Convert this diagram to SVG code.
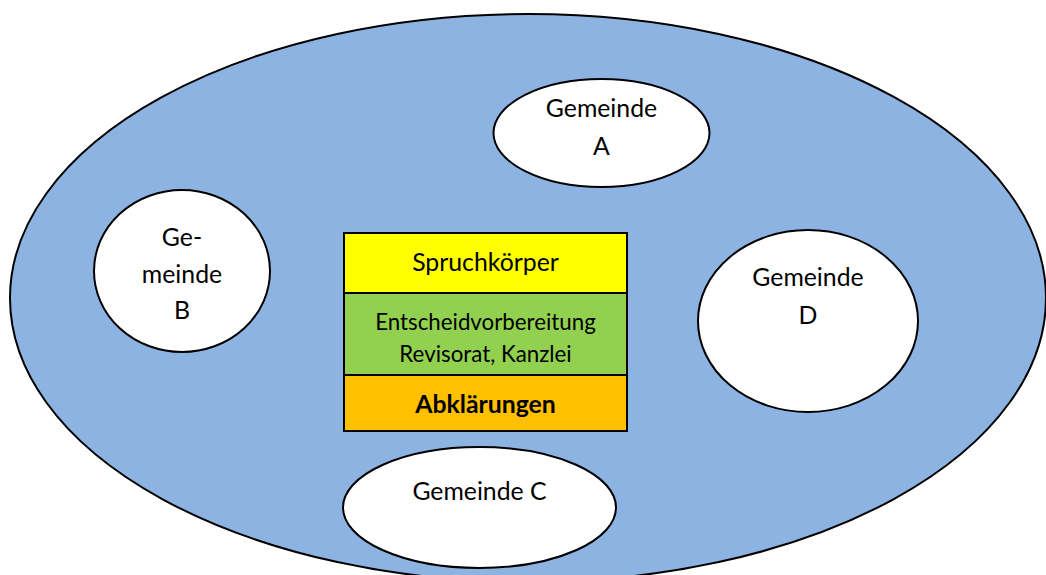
<svg xmlns="http://www.w3.org/2000/svg" width="1046" height="575" viewBox="0 0 1046 575">
<style>
.ol{stroke:#000;stroke-width:2}
.t{font-family:Lato,"Open Sans","Liberation Sans",sans-serif;font-size:24.8px;fill:#000;text-anchor:middle}
.s{font-size:22.3px}
.b{font-weight:bold}
</style>
<rect width="1046" height="575" fill="#fff"/>
<g id="region">
<ellipse cx="528" cy="298" rx="518" ry="284" fill="#8DB3E2" class="ol"/>
</g>
<g id="gemeinde-a">
<ellipse cx="601.5" cy="133" rx="108" ry="54" fill="#fff" class="ol"/>
<text class="t" x="601.5" y="117">Gemeinde</text>
<text class="t" x="601.5" y="155">A</text>
</g>
<g id="gemeinde-b">
<ellipse cx="182" cy="271" rx="88" ry="81" fill="#fff" class="ol"/>
<text class="t" x="182" y="246">Ge-</text>
<text class="t" x="182" y="283">meinde</text>
<text class="t" x="182" y="319">B</text>
</g>
<g id="gemeinde-d">
<ellipse cx="808" cy="321" rx="110" ry="91" fill="#fff" class="ol"/>
<text class="t" x="808" y="286">Gemeinde</text>
<text class="t" x="808" y="324">D</text>
</g>
<g id="gemeinde-c">
<ellipse cx="479.5" cy="507.5" rx="136.5" ry="60.5" fill="#fff" class="ol"/>
<text class="t" x="479.5" y="500">Gemeinde C</text>
</g>
<g id="spruchkoerper">
<rect x="344" y="233" width="283" height="60" fill="#FFFF00" class="ol"/>
<text class="t" x="485.5" y="271">Spruchkörper</text>
</g>
<g id="entscheidvorbereitung">
<rect x="344" y="293" width="283" height="82" fill="#92D050" class="ol"/>
<text class="t s" x="485.5" y="330">Entscheidvorbereitung</text>
<text class="t s" x="485.5" y="362">Revisorat, Kanzlei</text>
</g>
<g id="abklaerungen">
<rect x="344" y="375" width="283" height="56" fill="#FFC000" class="ol"/>
<text class="t b" x="485.5" y="413">Abklärungen</text>
</g>
<g id="connectors"></g>
</svg>
